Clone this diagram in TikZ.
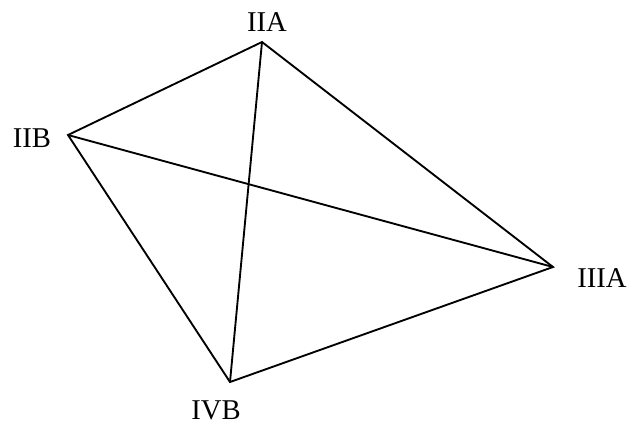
\documentclass[tikz,border=0pt]{standalone}
\usepackage{fontspec}
\setmainfont{Liberation Serif}
\begin{document}
\begin{tikzpicture}[x=0.75pt, y=-0.75pt,
    edge/.style={line width=1.4pt, line join=miter},
    lbl/.style={font=\fontsize{21.5}{26}\selectfont, inner sep=0pt}]
    \useasboundingbox (0,0) rectangle (632,426);

    % Vertices of the graph
    \coordinate (IIA) at (262,42);
    \coordinate (IIB) at (68,135);
    \coordinate (IIIA) at (553,267);
    \coordinate (IVB) at (230,382);

    % Labels
    \node[lbl] (lIIA) at (267,22) {IIA};
    \node[lbl] (lIIB) at (32,138) {IIB};
    \node[lbl] (lIIIA) at (602,278) {IIIA};
    \node[lbl] (lIVB) at (216,410) {IVB};

    % Edges: every pair joined
    \draw[edge] (IIB) -- (IIA) -- (IIIA) -- (IVB) -- cycle;
    \draw[edge] (IIA) -- (IVB);
    \draw[edge] (IIB) -- (IIIA);
\end{tikzpicture}
\end{document}
